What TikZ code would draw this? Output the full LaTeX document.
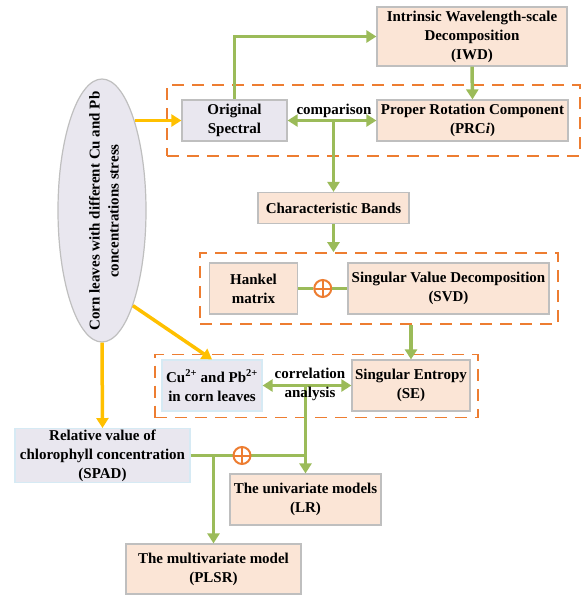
\documentclass[tikz,border=0pt]{standalone}
\usepackage{fontspec}
\setmainfont{Liberation Serif}
\usepackage{tikz}
\usetikzlibrary{shapes, arrows.meta, positioning, calc}

\definecolor{linegreen}{RGB}{155, 187, 89}
\definecolor{dashorange}{RGB}{237, 125, 49}
\definecolor{arrowyellow}{RGB}{255, 192, 0}
\definecolor{boxpeach}{RGB}{251, 229, 214}
\definecolor{boxgrey}{RGB}{233, 231, 239}
\definecolor{edgegrey}{RGB}{191, 191, 191}
\definecolor{edgeblue}{RGB}{214, 234, 244}

\tikzset{
  every node/.style={font=\fontsize{15}{19}\selectfont\bfseries, align=center, inner sep=1pt},
  stagebox/.style={draw=edgegrey, fill=boxpeach, line width=1.2pt},
  inputbox/.style={draw=edgegrey, fill=boxgrey, line width=1.2pt},
  databox/.style={draw=edgeblue, fill=boxgrey, line width=1.2pt},
  groupbox/.style={draw=dashorange, line width=1.6pt, dash pattern=on 12pt off 8pt},
  garrow/.style={draw=linegreen, line width=3.5pt, -{Triangle[length=10pt, width=12pt]}},
  gboth/.style={draw=linegreen, line width=3.5pt, {Triangle[length=10pt, width=12pt]}-{Triangle[length=10pt, width=12pt]}},
  gline/.style={draw=linegreen, line width=3.5pt},
  yarrow/.style={draw=arrowyellow, line width=3.5pt, -{Triangle[length=10pt, width=12pt]}},
  oplus/.style={circle, draw=dashorange, fill=white, line width=2pt, minimum size=17pt, inner sep=0pt,
    path picture={\draw[dashorange, line width=2pt]
      (path picture bounding box.north) -- (path picture bounding box.south)
      (path picture bounding box.west) -- (path picture bounding box.east);}},
}

\begin{document}
\begin{tikzpicture}[x=1pt, y=-1pt]
  \useasboundingbox (0,0) rectangle (585,595);

  % dashed groups
  \node[groupbox, minimum width=413pt, minimum height=71pt] (grpone) at (373.5, 120.5) {};
  \node[groupbox, minimum width=358pt, minimum height=71pt] (grptwo) at (379, 288.5) {};
  \node[groupbox, minimum width=323pt, minimum height=63pt] (grpthree) at (316.5, 386) {};

  % stress samples
  \node[ellipse, inputbox, minimum width=88pt, minimum height=263pt, inner sep=0pt] (leaves) at (102, 210.5) {};
  \node[rotate=90] (leavestext) at (104, 211) {Corn leaves with different Cu and Pb\\concentrations stress};

  % spectral decomposition
  \node[stagebox, minimum width=190pt, minimum height=59pt] (iwd) at (472, 36.5) {Intrinsic Wavelength-scale\\Decomposition\\(IWD)};
  \node[inputbox, minimum width=105pt, minimum height=41pt] (orig) at (234.5, 120.5) {Original\\Spectral};
  \node[stagebox, minimum width=191pt, minimum height=41pt] (prc) at (472.5, 120.5) {Proper Rotation Component\\(PRC\textit{i})};
  \node[stagebox, minimum width=151pt, minimum height=31pt] (bands) at (333.5, 208) {Characteristic Bands};

  % SVD
  \node[stagebox, minimum width=88pt, minimum height=51pt] (hankel) at (253.5, 288.5) {Hankel\\matrix};
  \node[stagebox, minimum width=201pt, minimum height=51pt] (svd) at (448.5, 288.5) {Singular Value Decomposition\\(SVD)};
  \node[oplus] (sumone) at ($(hankel.east)!0.5!(svd.west)$) {};

  % entropy and heavy metals
  \node[databox, minimum width=100pt, minimum height=51pt] (metal) at (212, 385.5) {Cu\textsuperscript{2+} and Pb\textsuperscript{2+}\\in corn leaves};
  \node[stagebox, minimum width=118pt, minimum height=51pt] (se) at (411, 385.5) {Singular Entropy\\(SE)};

  % models
  \node[databox, minimum width=175pt, minimum height=51pt] (spad) at (102.5, 455.5) {Relative value of\\chlorophyll concentration\\(SPAD)};
  \node[stagebox, minimum width=151pt, minimum height=51pt] (lr) at (305.5, 499.5) {The univariate models\\(LR)};
  \node[stagebox, minimum width=175pt, minimum height=50pt] (plsr) at (213.5, 569) {The multivariate model\\(PLSR)};

  % green flow
  \draw[garrow] (orig.north) |- (iwd.west);
  \draw[garrow] (iwd.south) -- (prc.north);
  \draw[gboth] (orig.east) -- (prc.west);
  \draw[garrow] (bands.north |- orig.east) -- (bands.north);
  \draw[garrow] (bands.south) -- (bands.south |- grptwo.north);
  \draw[gline] (hankel.east) -- (sumone) -- (svd.west);
  \draw[garrow] (se.north |- grptwo.south) -- (se.north);
  \draw[gboth] (metal.east) -- (se.west);
  \draw[garrow] (metal.east -| lr.north) -- (lr.north);
  \draw[gline] (spad.east) -- (spad.east -| lr.north);
  \draw[garrow] (spad.east -| plsr.north) -- (plsr.north);
  \node[oplus] (sumtwo) at (242, 455.5) {};

  % yellow flow
  \draw[yarrow] (leaves.70 |- orig.west) -- (orig.west);
  \draw[yarrow] (leaves.-72) -- (metal.north);
  \draw[yarrow] (leaves.south) -- (spad.north);

  % labels
  \node (cmplabel) at (334, 111) {comparison};
  \node (corlabel) at (310, 384) {correlation\\analysis};
\end{tikzpicture}
\end{document}
